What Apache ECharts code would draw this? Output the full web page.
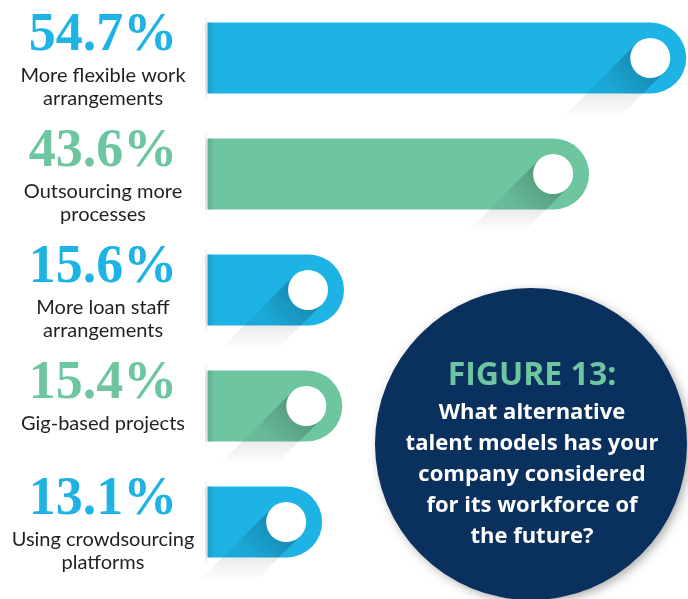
<!DOCTYPE html>
<html>
<head>
<meta charset="utf-8">
<script src="https://cdn.jsdelivr.net/npm/echarts@6/dist/echarts.min.js"></script>
<style>
  html, body { margin: 0; padding: 0; background: #fff; }
  #chart { width: 688px; height: 599px; }
</style>
</head>
<body>
<div id="chart"></div>
<script>
// data
const categories = [
  'More flexible work\narrangements',
  'Outsourcing more\nprocesses',
  'More loan staff\narrangements',
  'Gig-based projects',
  'Using crowdsourcing\nplatforms'
];
const values = [54.7, 43.6, 15.6, 15.4, 13.1];
const figureTitle = 'FIGURE 13:';
const questionLines = [
  'What alternative',
  'talent models has your',
  'company considered',
  'for its workforce of',
  'the future?'
];
const xMax = 54.9;

// colours
const BLUE = '#1db3e4';
const GREEN = '#6ec6a1';
const NAVY = '#0a305e';
const INK = '#231f20';
const colorOf = i => (i % 2 === 0 ? BLUE : GREEN);

const chart = echarts.init(document.getElementById('chart'));

const renderBar = (params, api) => {
  const v = api.value(0);
  const i = api.value(1);
  const start = api.coord([0, i]);
  const end = api.coord([v, i]);
  const cy = start[1];
  const h = api.size([0, 1])[1] * 0.612;
  const top = cy - h / 2;
  const bottom = cy + h / 2;
  const color = colorOf(i);

  // white knob + long shadow
  const cx = end[0] - 36;
  const cr = 20;
  const k = cr * Math.SQRT1_2;
  const p1 = [cx + k, cy + k];
  const p2 = [cx - k, cy - k];
  const p1b = [p1[0] - (bottom - p1[1]), bottom];
  const p2b = [p2[0] - (bottom - p2[1]), bottom];
  const L = 24;
  const p1c = [p1b[0] - L, bottom + L];
  const p2c = [p2b[0] - L, bottom + L];

  return {
    type: 'group',
    children: [
      {
        type: 'rect',
        shape: { x: start[0], y: top, width: end[0] - start[0], height: h, r: [0, h / 2, h / 2, 0] },
        style: { fill: color }
      },
      {
        type: 'rect',
        shape: { x: start[0], y: top, width: 8, height: h },
        style: {
          fill: { type: 'linear', x: 0, y: 0, x2: 1, y2: 0,
            colorStops: [{ offset: 0, color: 'rgba(0,0,0,0.12)' }, { offset: 1, color: 'rgba(0,0,0,0)' }] }
        }
      },
      {
        type: 'rect',
        shape: { x: start[0] - 2.5, y: top - 8, width: 2, height: h + 16 },
        style: {
          fill: { type: 'linear', x: 0, y: 0, x2: 0, y2: 1,
            colorStops: [
              { offset: 0, color: 'rgba(0,0,0,0)' },
              { offset: 0.15, color: 'rgba(0,0,0,0.12)' },
              { offset: 0.85, color: 'rgba(0,0,0,0.12)' },
              { offset: 1, color: 'rgba(0,0,0,0)' }
            ] }
        }
      },
      {
        type: 'polygon',
        shape: { points: [p1, p2, p2b, p1b] },
        style: {
          fill: { type: 'linear', global: true, x: cx, y: cy, x2: cx - (bottom - cy), y2: bottom,
            colorStops: [{ offset: 0, color: 'rgba(0,0,0,0.25)' }, { offset: 1, color: 'rgba(0,0,0,0.06)' }] }
        }
      },
      {
        type: 'polygon',
        shape: { points: [p1b, p2b, p2c, p1c] },
        style: {
          fill: { type: 'linear', global: true, x: 0, y: bottom, x2: 0, y2: bottom + L,
            colorStops: [{ offset: 0, color: 'rgba(0,0,0,0.08)' }, { offset: 1, color: 'rgba(0,0,0,0)' }] }
        }
      },
      {
        type: 'circle',
        shape: { cx: cx, cy: cy, r: cr },
        style: { fill: '#fff' }
      },
      {
        type: 'text',
        x: 103,
        y: cy - 22,
        style: {
          text: v + '%',
          font: 'bold 54px "Liberation Serif", "Times New Roman", "DejaVu Serif", serif',
          fill: color,
          align: 'center',
          verticalAlign: 'middle'
        }
      },
      {
        type: 'text',
        x: 103,
        y: cy + 6,
        style: {
          text: categories[i],
          fontFamily: 'Lato',
          fontSize: 20,
          fill: INK,
          align: 'center',
          verticalAlign: 'top',
          lineHeight: 23
        }
      }
    ]
  };
};

const option = {
  animation: false,
  grid: { left: 207.5, right: 0, top: 0, bottom: 19 },
  xAxis: { type: 'value', min: 0, max: xMax, show: false },
  yAxis: { type: 'category', inverse: true, data: categories, show: false },
  series: [
    {
      type: 'custom',
      renderItem: renderBar,
      encode: { x: 0, y: 1 },
      data: values.map((v, i) => [v, i])
    }
  ],
  graphic: [
    {
      type: 'circle',
      z: 10,
      shape: { cx: 531, cy: 444, r: 156 },
      style: { fill: NAVY, shadowBlur: 10, shadowColor: 'rgba(0,0,0,0.3)', shadowOffsetX: 3, shadowOffsetY: 3 }
    },
    {
      type: 'text',
      z: 11,
      x: 532,
      y: 376,
      style: { text: figureTitle, fontFamily: 'Open Sans', fontWeight: 'bold', fontSize: 32, fill: GREEN, align: 'center', verticalAlign: 'middle' }
    },
    {
      type: 'text',
      z: 11,
      x: 532,
      y: 397.5,
      style: { text: questionLines.join('\n'), fontFamily: 'Open Sans', fontWeight: 'bold', fontSize: 22, fill: '#fff', align: 'center', verticalAlign: 'top', lineHeight: 31 }
    }
  ]
};

chart.setOption(option);
</script>
</body>
</html>
